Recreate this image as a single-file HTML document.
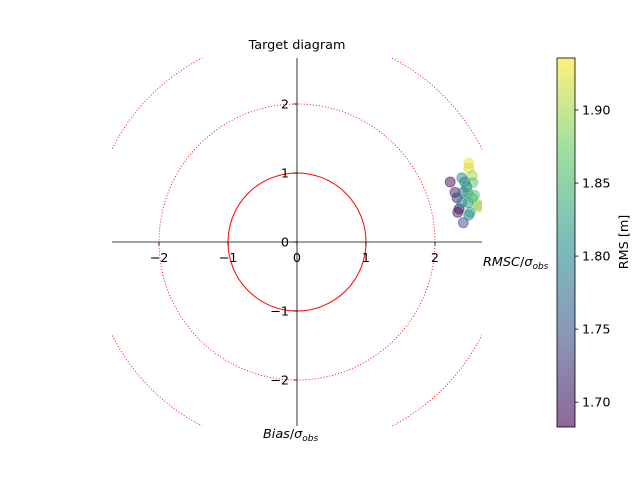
<!DOCTYPE html>
<html><head><meta charset="utf-8"><style>
body{margin:0;background:#fff}
svg text{font-family:"DejaVu Sans","Liberation Sans",sans-serif;font-size:12.8px;fill:#000}
</style></head><body>
<svg id="c" width="640" height="480" xmlns="http://www.w3.org/2000/svg">
<defs>
<linearGradient id="vir" x1="0" y1="1" x2="0" y2="0">
<stop offset="0" stop-color="#440154"/><stop offset="0.25" stop-color="#3b528b"/><stop offset="0.5" stop-color="#21918c"/><stop offset="0.75" stop-color="#5ec962"/><stop offset="1" stop-color="#fde725"/>
</linearGradient>
<clipPath id="clip"><rect x="112" y="58" width="370" height="368"/></clipPath>
</defs>
<g id="plot"></g>
<rect x="557" y="58" width="18" height="369" fill="url(#vir)" opacity="0.6"/>
<rect x="557" y="58" width="18" height="369" fill="none" stroke="#000" stroke-width="0.8"/>
<g id="cbticks"></g>
<text x="628" y="242" transform="rotate(-90 628 242)" text-anchor="middle">RMS [m]</text>
<text x="297" y="49" text-anchor="middle">Target diagram</text>
<text x="483" y="266"><tspan font-style="italic">RMSC</tspan>/<tspan font-style="italic">σ</tspan><tspan font-size="9" dy="3" font-style="italic">obs</tspan></text>
<text x="263" y="438"><tspan font-style="italic">Bias</tspan>/<tspan font-style="italic">σ</tspan><tspan font-size="9" dy="3" font-style="italic">obs</tspan></text>
</svg>
<script>
const rmsc=[2.49,2.49,2.54,2.22,2.29,2.32,2.35,2.33,2.41,2.49,2.51,2.62,2.64,2.55,2.39,2.43,2.46,2.41,2.48,2.54,2.48,2.39,2.57];
const bias=[1.14,1.07,0.96,0.87,0.72,0.64,0.48,0.43,0.28,0.39,0.43,0.54,0.51,0.86,0.93,0.87,0.80,0.72,0.71,0.64,0.57,0.57,0.68];
const rms=[1.93,1.92,1.90,1.69,1.71,1.72,1.69,1.70,1.74,1.80,1.82,1.89,1.90,1.87,1.80,1.79,1.81,1.78,1.83,1.86,1.82,1.80,1.86];
const axTicks=[-2,-1,0,1,2];
const cbTicks=[1.70,1.75,1.80,1.85,1.90];
const cmin=1.683,cmax=1.9356;
const NS="http://www.w3.org/2000/svg";
const sx=v=>297+v*69, sy=v=>242-v*69;
const cy=v=>427-(v-cmin)/(cmax-cmin)*369;
function mk(t,a,p){const e=document.createElementNS(NS,t);for(const k in a)e.setAttribute(k,a[k]);p.appendChild(e);return e;}
const vir=[[68,1,84],[59,82,139],[33,145,140],[94,201,98],[253,231,37]];
function col(v){let t=Math.max(0,Math.min(1,(v-cmin)/(cmax-cmin)))*4;const i=Math.min(3,Math.floor(t)),f=t-i;const a=vir[i],b=vir[i+1];return `rgb(${a.map((x,j)=>Math.round(x+(b[j]-x)*f)).join(',')})`;}
const g=document.getElementById('plot');
const cg=mk('g',{'clip-path':'url(#clip)'},g);
[[1,'none'],[2,'1,2'],[3,'1,2']].forEach(([r,d])=>{
 const c=mk('circle',{cx:sx(0),cy:sy(0),r:r*69,fill:'none',stroke:'red','stroke-width':r==1?1:0.9,'stroke-dasharray':d},cg);
 
 
});
mk('line',{x1:112,y1:242,x2:482,y2:242,stroke:'#000','stroke-width':0.8},g);
mk('line',{x1:297,y1:58,x2:297,y2:426,stroke:'#000','stroke-width':0.8},g);
axTicks.forEach(v=>{
 mk('line',{x1:sx(v),y1:242,x2:sx(v),y2:245.5,stroke:'#000','stroke-width':0.8},g);
 const t=mk('text',{x:sx(v),y:262,'text-anchor':'middle'},g);t.textContent=v<0?'−'+(-v):v;
 
 
 mk('line',{x1:293.5,y1:sy(v),x2:297,y2:sy(v),stroke:'#000','stroke-width':0.8},g);
 const u=mk('text',{x:289,y:sy(v)+4.5,'text-anchor':'end'},g);u.textContent=v<0?'−'+(-v):v;
 
 
});
rmsc.forEach((x,i)=>{
 const p=mk('circle',{cx:sx(x),cy:sy(bias[i]),r:5,fill:col(rms[i]),'fill-opacity':0.5,stroke:col(rms[i]),'stroke-opacity':0.5},cg);
 
 
});
const cb=document.getElementById('cbticks');
cbTicks.forEach(v=>{
 mk('line',{x1:575,y1:cy(v),x2:578.5,y2:cy(v),stroke:'#000','stroke-width':0.8},cb);
 const t=mk('text',{x:582,y:cy(v)+4.5},cb);t.textContent=v.toFixed(2);
 
 
});
</script>
</body></html>
